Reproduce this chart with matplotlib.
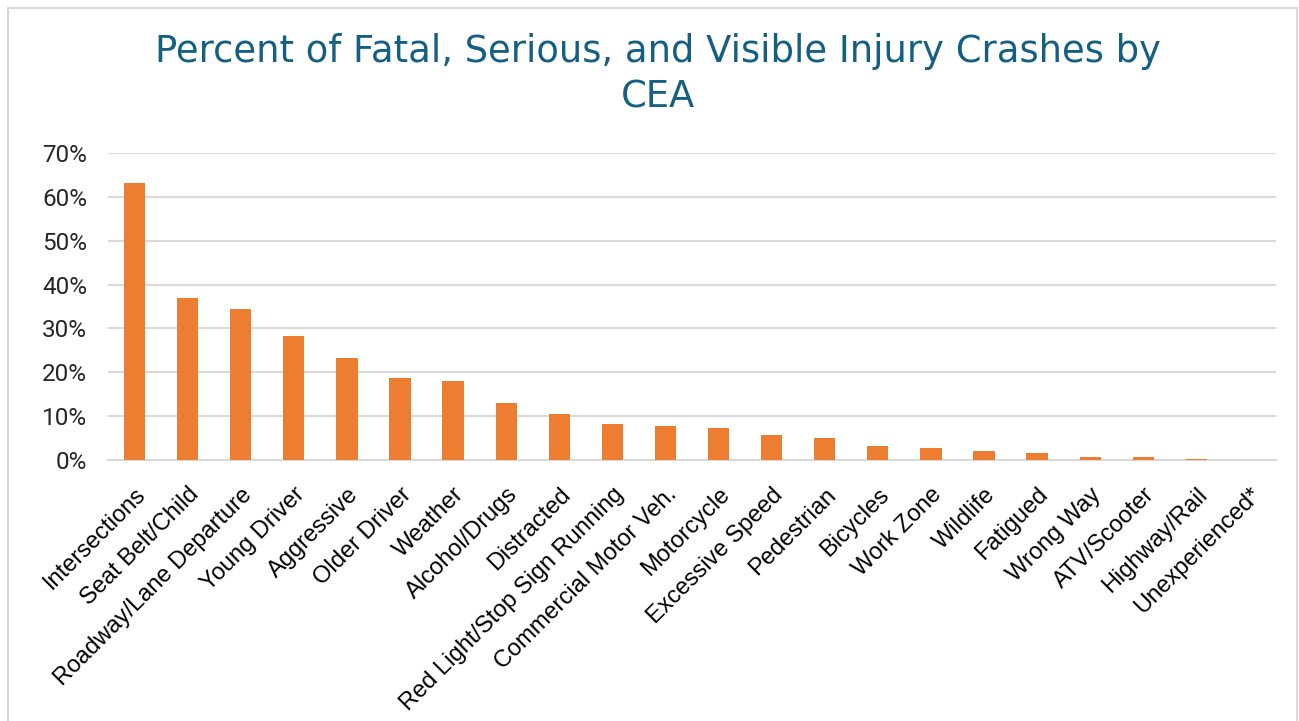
import matplotlib.pyplot as plt
from matplotlib.patches import Rectangle
from matplotlib.ticker import PercentFormatter
import numpy as np

categories = ["Intersections", "Seat Belt/Child", "Roadway/Lane Departure",
              "Young Driver", "Aggressive", "Older Driver", "Weather",
              "Alcohol/Drugs", "Distracted", "Red Light/Stop Sign Running",
              "Commercial Motor Veh.", "Motorcycle", "Excessive Speed",
              "Pedestrian", "Bicycles", "Work Zone", "Wildlife", "Fatigued",
              "Wrong Way", "ATV/Scooter", "Highway/Rail", "Unexperienced*"]
percents = [63.2, 37.0, 34.4, 28.2, 23.3, 18.7, 18.0, 13.0, 10.5, 8.1,
            7.8, 7.2, 5.6, 5.1, 3.3, 2.8, 2.0, 1.6, 0.6, 0.6, 0.2, 0.0]
yticks = [0, 10, 20, 30, 40, 50, 60, 70]
title_lines = ["Percent of Fatal, Serious, and Visible Injury Crashes by", "CEA"]

W, H = 1299, 721
fig = plt.figure(figsize=(W / 100, H / 100), dpi=100)
ax = fig.add_axes([108 / W, 1 - 460 / H, (1276 - 108) / W, (460 - 153) / H])

x = np.arange(len(categories))
ax.bar(x, percents, width=0.4, color="#ED7D31", zorder=3)

ax.set_xlim(-0.5, len(categories) - 0.5)
ax.set_ylim(0, 70)
ax.set_yticks(yticks)
ax.yaxis.set_major_formatter(PercentFormatter(decimals=0))
ax.grid(axis="y", color="#D9D9D9", linewidth=1.5, zorder=0)
for s in ["top", "right", "left"]:
    ax.spines[s].set_visible(False)
ax.spines["bottom"].set_color("#D9D9D9")
ax.spines["bottom"].set_linewidth(1.5)
ax.tick_params(axis="both", length=0)
ax.tick_params(axis="y", pad=15, labelsize=17.5, labelcolor="#262626")
for lab in ax.get_yticklabels():
    lab.set_fontfamily("Roboto")

ax.set_xticks(x)
ax.set_xticklabels(categories, rotation=45, ha="right", va="top",
                   rotation_mode="anchor", fontsize=17,
                   fontfamily="Liberation Sans", color="#000000")
ax.tick_params(axis="x", pad=17)

# title: wide geometric face in the original, so fit a wide font to its width
t1 = fig.text(658 / W, 1 - 52 / H, title_lines[0], ha="center", va="center",
              fontsize=26, color="#156082", fontfamily="DejaVu Sans")
t2 = fig.text(658 / W, 1 - 97 / H, title_lines[1], ha="center", va="center",
              fontsize=26, color="#156082", fontfamily="DejaVu Sans")
r = fig.canvas.get_renderer()
fs = 26 * 1003 / t1.get_window_extent(r).width
t1.set_fontsize(fs)
t2.set_fontsize(fs)

# light frame round the chart area
fig.patches.append(Rectangle((8 / W, -0.01), (1297 - 8) / W, 1 - 8 / H + 0.01,
                             transform=fig.transFigure, fill=False,
                             edgecolor="#D9D9D9", linewidth=1.5))

fig.savefig("out.png", dpi=100)
